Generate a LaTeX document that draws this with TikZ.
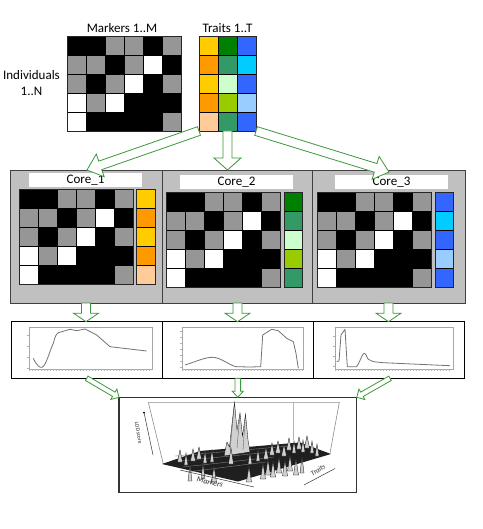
\documentclass[tikz,border=0pt]{standalone}
\usepackage{fontspec}
\setmainfont{Carlito}
\usetikzlibrary{calc}
\definecolor{agreen}{RGB}{60,150,60}
\definecolor{panelgray}{RGB}{192,192,192}
\colorlet{cellB}{black}
\definecolor{cellG}{RGB}{150,150,150}
\colorlet{cellW}{white}
\definecolor{yel}{HTML}{FFCC00}
\definecolor{org}{HTML}{FF9900}
\definecolor{pch}{HTML}{FFCC99}
\definecolor{dgr}{HTML}{008000}
\definecolor{sgr}{HTML}{339966}
\definecolor{lgr}{HTML}{CCFFCC}
\definecolor{ygr}{HTML}{99CC00}
\definecolor{blu}{HTML}{3366FF}
\definecolor{cyn}{HTML}{00CCFF}
\definecolor{lbl}{HTML}{99CCFF}
\tikzset{
  box/.style={inner sep=0pt, outer sep=0pt, anchor=north west},
  panelbox/.style={box, fill=panelgray, draw=black!75, line width=0.9pt},
  labelbox/.style={box, fill=white, minimum height=14pt, minimum width=113pt, font=\fontsize{13}{14}\selectfont},
  plotbox/.style={box, fill=white, draw=black, line width=0.9pt, minimum height=56.6pt},
  gridbox/.style={box, draw=black!85, line width=0.9pt},
  cellsty/.style={draw=black, line width=0.7pt},
  arrowsty/.style={draw=agreen, fill=white, line width=0.8pt, line join=miter},
  lbltext/.style={font=\fontsize{13}{15.5}\selectfont, inner sep=0pt},
  axbox/.style={draw=black!35, line width=0.4pt},
  curve/.style={draw=black!55, line width=0.8pt, line join=round},
  smalllbl/.style={inner sep=0pt, text=black!85},
  spike/.style={fill=black!18, draw=black, line width=0.3pt},
}
% marker grid: x0, y0, cell width, cell height
\newcommand\markergrid[4]{%
  \foreach \rw [count=\r from 0] in {{B,B,G,G,B,G},{G,G,B,G,W,B},{G,B,G,W,B,G},{W,G,W,B,B,B},{W,B,B,B,B,G}}{%
    \foreach \cc [count=\k from 0] in \rw {%
      \filldraw[cellsty, fill=cell\cc] ({#1+\k*#3},{#2+\r*#4}) rectangle ++(#3,#4);
    }}}
% trait column: x0, y0, cell width, cell height, colours
\newcommand\traitcol[5]{%
  \foreach \cc [count=\r from 0] in {#5}{%
    \filldraw[cellsty, fill=\cc] (#1,{#2+\r*#4}) rectangle ++(#3,#4);
  }}
% hollow block arrow: start, tip, half shaft, half head, head length
\newcommand\blockarrow[5]{%
  \coordinate (ba-b) at ($(#2)!#5!(#1)$);
  \draw[arrowsty] ($(#1)!#3!90:(#2)$) -- ($(ba-b)!#3!-90:(#1)$) -- ($(ba-b)!#4!-90:(#1)$)
    -- (#2) -- ($(ba-b)!#4!90:(#1)$) -- ($(ba-b)!#3!90:(#1)$) -- ($(#1)!#3!-90:(#2)$) -- cycle;
}
\begin{document}
\begin{tikzpicture}[x=1pt,y=-1pt]
\useasboundingbox (0,0) rectangle (482,529);

% ---------- top: labels and matrices ----------
\node[lbltext] (mlabel) at (122,28) {Markers 1..M};
\node[lbltext] (tlabel) at (227.5,28) {Traits 1..T};
\node[lbltext, align=center] (ilabel) at (31.5,83) {Individuals\\1..N};

\markergrid{67}{36}{19}{19}
\node[gridbox, minimum width=114pt, minimum height=95pt] (mk) at (67,36) {};
\traitcol{199}{36}{19}{19}{yel,org,yel,org,pch}
\traitcol{218}{36}{19}{19}{dgr,sgr,lgr,ygr,sgr}
\traitcol{237}{36}{19}{19}{blu,cyn,blu,lbl,blu}
\node[gridbox, minimum width=57pt, minimum height=95pt] (tr) at (199,36) {};

% ---------- core panels ----------
\node[panelbox, minimum width=152pt, minimum height=133pt] (p1) at (10,170) {};
\node[panelbox, minimum width=150pt, minimum height=133pt] (p2) at (162,170) {};
\node[panelbox, minimum width=153pt, minimum height=133pt] (p3) at (312,170) {};

\node[labelbox] (l1) at (29,173) {Core\_1};
\node[labelbox] (l2) at (180,175.5) {Core\_2};
\node[labelbox] (l3) at (335,175.5) {Core\_3};

\markergrid{19.3}{189.3}{19}{19}
\node[gridbox, minimum width=114pt, minimum height=95pt] (m1) at (19.3,189.3) {};
\traitcol{136.7}{189.3}{18.7}{19}{yel,org,yel,org,pch}
\node[gridbox, minimum width=18.7pt, minimum height=95pt] (t1) at (136.7,189.3) {};

\markergrid{166.7}{192.7}{19}{19}
\node[gridbox, minimum width=114pt, minimum height=95pt] (m2) at (166.7,192.7) {};
\traitcol{284}{192.7}{18.7}{19}{dgr,sgr,lgr,ygr,sgr}
\node[gridbox, minimum width=18.7pt, minimum height=95pt] (t2) at (284,192.7) {};

\markergrid{317.3}{192.7}{19}{19}
\node[gridbox, minimum width=114pt, minimum height=95pt] (m3) at (317.3,192.7) {};
\traitcol{435}{192.7}{18.7}{19}{blu,cyn,blu,lbl,blu}
\node[gridbox, minimum width=18.7pt, minimum height=95pt] (t3) at (435,192.7) {};

% ---------- plots ----------
\node[plotbox, minimum width=151.3pt] (g1) at (11,321.7) {};
\node[plotbox, minimum width=151pt] (g2) at (162.3,321.7) {};
\node[plotbox, minimum width=151pt] (g3) at (313.3,321.7) {};

% plot 1
\draw[axbox] (29.3,327.3) rectangle (152.3,369);
\foreach \i in {0,...,40} \draw[black!30, line width=0.3pt] ({29.3+\i*3},369) -- ++(0,1.5);
\foreach \j in {0,...,3} \draw[black!30, line width=0.3pt] (29.3,{335+\j*11}) -- ++(-2,0);
\draw[curve] (33.3,358.3) .. controls (37,366) and (40,368) .. (42,367.3)
  .. controls (46,366) and (50,350) .. (53.3,343.3)
  .. controls (55,337) and (56,334) .. (58.3,332.7)
  -- (70,329.3) -- (76.7,330.7) -- (85,329) -- (96.7,335) -- (110,346.7) -- (146.7,351);

% plot 2
\draw[axbox] (181.7,327.3) rectangle (303.3,369);
\foreach \i in {0,...,40} \draw[black!30, line width=0.3pt] ({181.7+\i*3},369) -- ++(0,1.5);
\foreach \j in {0,...,6} \draw[black!30, line width=0.3pt] (181.7,{331+\j*6}) -- ++(-2,0);
\draw[curve] (185,365) .. controls (195,362) and (205,357) .. (213.3,357.3)
  .. controls (222,358) and (230,366) .. (236.7,366.7)
  -- (250,367) -- (260.7,366.7) -- (262.7,335) -- (271.7,329.3) -- (278.3,330.7)
  -- (286.7,338.3) -- (293.3,341.7) -- (296,353.3) -- (298.3,368.3);

% plot 3
\draw[axbox] (335,327.3) rectangle (453.3,369);
\foreach \i in {0,...,38} \draw[black!30, line width=0.3pt] ({335+\i*3},369) -- ++(0,1.5);
\foreach \j in {0,...,3} \draw[black!30, line width=0.3pt] (335,{336+\j*10}) -- ++(-2,0);
\draw[curve] (336.7,361.7) -- (339,361) -- (341,335) -- (345,329.3) -- (347.3,366.7)
  -- (356.7,366.7) .. controls (360,362) and (362,354) .. (364,353.3)
  .. controls (366,353) and (367,358) .. (368.3,359.3)
  -- (373.3,361.7) -- (383.3,362.7) -- (450,365.7);

% ---------- 3D surface ----------
\node[box, draw=black!80, line width=1.1pt, fill=white, minimum width=237.7pt, minimum height=95.4pt] (s3d) at (119,397.3) {};
\draw[black!45, line width=0.6pt] (148.3,402.3) -- (339.3,402.3) -- (330,453.3);
\draw[black!45, line width=0.6pt] (148.3,402.3) -- (163.3,464);
\draw[black!30, line width=0.5pt] (293.3,402.3) -- (293.3,440);
% floor
\fill[black!88] (162,464) -- (200,451) -- (300,442.5) -- (331,454) -- (238,481.5) -- cycle;
\foreach \y/\d in {455/0,460/4,466/8,471/12}
  \draw[black!45, line width=0.35pt] ({175+\d},{\y+1}) -- ({290-\d*2},{\y-9});
% back peaks
\filldraw[spike]
  (224,456) -- (227,442) -- (229.5,447) -- (232,424) -- (234.5,402.5) -- (237,430)
  -- (240,413) -- (242.5,436) -- (245.5,414) -- (248,440) -- (250,452) -- cycle;
\draw[black!70, line width=0.3pt] (230,450) -- (234.5,402.5) (237,448) -- (240,413) (243,450) -- (245.5,414);
\foreach \px/\py/\w in {266/447/2.5,272/443/2.5,278/441/2.5,284/444/2.5,289/438/2.5,294/441/2,299/437/2.5,303/440/2,307/436/2.5,312/441/2,317/444/2,180/450/2.5,186/453/2,193/449/2.5,199/447/2.5,205/451/2,212/450/2,258/449/2,250/452/2}
  \filldraw[spike] ({\px-\w},{\py+12}) -- (\px,\py) -- ({\px+\w},{\py+12}) -- cycle;
% front peaks
\foreach \px/\py/\w in {231/448/2.5,263/463/2.5,268/459/2.5,273/461/2.5,279/457/2.5,285/460/2.5,290/455/2.5,296/459/2.5,302/457/2,249/466/2.5,214/466/2.5,203/463/2,190/465/2}
  \filldraw[spike] ({\px-\w},{\py+16}) -- (\px,\py) -- ({\px+\w},{\py+16}) -- cycle;
% axis labels
\coordinate (lodA) at (144,412.5);
\coordinate (lodB) at (153,455);
\draw[black!80, line width=0.5pt] (lodA) -- (lodB);
\fill[black] (lodA) circle (1pt);
\node[smalllbl, font=\fontsize{5.5}{6}\selectfont, rotate=-80] (lod) at (138.5,433) {LOD score};
\coordinate (mkA) at (180,470);
\coordinate (mkB) at (254,487);
\draw[black!80, line width=0.5pt] (mkA) -- (mkB);
\node[smalllbl, font=\fontsize{8}{9}\selectfont\itshape, rotate=-13] (mkl) at (210,482) {Markers};
\coordinate (trA) at (304,485);
\coordinate (trB) at (335,468.5);
\draw[black!80, line width=0.5pt] (trA) -- (trB);
\node[smalllbl, font=\fontsize{7}{8}\selectfont\itshape, rotate=33] (trl) at (318,470) {Traits};

% ---------- arrows ----------
\coordinate (a1s) at (tr.south west);
\coordinate (a1t) at (87,170);
\coordinate (a2s) at (tr.south);
\coordinate (a2t) at (227.5,170);
\coordinate (a3s) at (tr.south east);
\coordinate (a3t) at (389,172);
\blockarrow{a1s}{a1t}{4.5pt}{12pt}{14pt}
\blockarrow{a2s}{a2t}{4.5pt}{13.5pt}{12pt}
\blockarrow{a3s}{a3t}{4.5pt}{12pt}{14pt}

\coordinate (b1s) at (86,303);
\coordinate (b1t) at (86,321.7);
\coordinate (b2s) at (237.5,303);
\coordinate (b2t) at (237.5,321.7);
\coordinate (b3s) at (388.5,303);
\coordinate (b3t) at (388.5,321.7);
\blockarrow{b1s}{b1t}{4.5pt}{12.5pt}{8.5pt}
\blockarrow{b2s}{b2t}{4.5pt}{12.5pt}{8.5pt}
\blockarrow{b3s}{b3t}{4.5pt}{12.5pt}{8.5pt}

\coordinate (c1s) at (86.7,378.3);
\coordinate (c2s) at (237.8,378.3);
\coordinate (c3s) at (390,378.3);
\coordinate (c1t) at (s3d.north west);
\coordinate (c2t) at (237.8,397.3);
\coordinate (c3t) at (s3d.north east);
\blockarrow{c1s}{c1t}{2.5pt}{6pt}{6pt}
\blockarrow{c2s}{c2t}{2.8pt}{5.5pt}{6pt}
\blockarrow{c3s}{c3t}{2.5pt}{6pt}{6pt}
\end{tikzpicture}
\end{document}
